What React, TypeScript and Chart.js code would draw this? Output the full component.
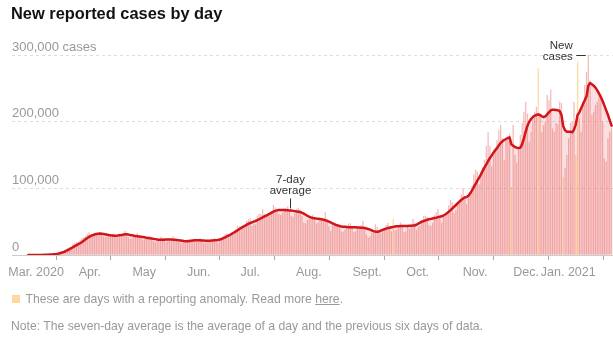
import React, { useEffect, useRef } from "react";
import { Chart, registerables } from "chart.js";

Chart.register(...registerables);

const FONT = '"Liberation Sans", Arial, Helvetica, sans-serif';

// Day 0 of both series
const startDate = "2020-03-01";

// New reported cases per day, in thousands (Mar. 1, 2020 - Jan. 21, 2021), one row per week (Sun-Sat)
const dailyCases = [
  0.02, 0.03, 0.04, 0.05, 0.07, 0.1, 0.12,
  0.15, 0.2, 0.3, 0.4, 0.5, 0.7, 0.8,
  0.9, 1.4, 2.0, 3.0, 4.5, 5.6, 7.0,
  8.5, 10.2, 10.8, 12.0, 17.0, 18.5, 19.5,
  20.0, 22.0, 26.0, 26.5, 29.0, 32.0, 34.0,
  28.0, 29.5, 31.5, 31.5, 33.5, 35.0, 31.0,
  28.0, 26.5, 27.5, 30.0, 30.5, 31.5, 32.0,
  27.0, 27.0, 27.5, 29.0, 31.5, 36.5, 33.0,
  26.5, 24.0, 25.0, 27.0, 29.5, 33.0, 29.0,
  25.5, 23.0, 23.5, 24.5, 27.5, 28.0, 26.5,
  21.0, 19.5, 21.5, 21.5, 27.0, 26.0, 25.5,
  19.5, 21.0, 20.5, 21.5, 28.0, 24.0, 22.5,
  19.5, 18.5, 18.5, 19.5, 22.0, 23.5, 24.5,
  20.5, 21.0, 21.0, 20.0, 22.5, 24.5, 23.0,
  18.5, 18.0, 19.0, 21.5, 23.0, 23.5, 25.5,
  20.0, 18.5, 23.5, 25.5, 28.0, 31.5, 32.5,
  26.0, 28.5, 33.0, 36.5, 38.5, 44.0, 43.0,
  40.0, 40.5, 44.5, 51.0, 53.5, 55.0, 44.0,
  47.0, 46.0, 59.0, 62.0, 61.5, 68.5, 62.0,
  59.5, 58.5, 63.0, 66.0, 75.0, 71.5, 65.0,
  62.0, 60.0, 63.0, 70.0, 70.5, 73.0, 67.0,
  59.0, 57.5, 63.5, 69.5, 71.0, 68.0, 59.0,
  48.5, 47.5, 53.0, 54.0, 56.5, 60.0, 56.5,
  47.5, 49.0, 54.0, 53.5, 52.5, 64.0, 54.5,
  43.0, 36.0, 44.5, 46.5, 46.0, 46.5, 44.5,
  35.5, 35.0, 38.5, 40.5, 47.0, 47.5, 43.5,
  34.5, 36.0, 41.0, 39.5, 45.0, 51.5, 42.0,
  31.0, 26.0, 28.0, 33.5, 37.0, 46.0, 42.5,
  34.0, 32.5, 38.5, 41.0, 45.0, 48.0, 44.0,
  35.5, 54.0, 37.0, 38.5, 43.0, 49.0, 45.0,
  34.5, 35.5, 42.0, 39.5, 45.0, 54.5, 48.5,
  38.0, 42.5, 44.0, 52.0, 58.5, 59.0, 57.0,
  45.0, 44.0, 48.5, 59.5, 64.0, 69.0, 57.0,
  48.5, 58.5, 58.0, 60.5, 74.5, 83.0, 79.5,
  63.0, 67.5, 75.0, 81.0, 91.0, 99.5, 86.5,
  76.0, 86.0, 93.0, 104.0, 121.0, 128.0, 125.0,
  106.0, 118.0, 132.0, 143.0, 163.0, 184.0, 164.0,
  133.0, 158.0, 161.0, 172.0, 187.0, 195.0, 175.0,
  142.0, 173.0, 172.0, 182.0, 102.0, 195.0, 150.0,
  139.0, 160.0, 180.0, 198.0, 215.0, 230.0, 212.0,
  170.0, 185.0, 205.0, 215.0, 222.0, 280.0, 212.0,
  185.0, 195.0, 200.0, 240.0, 232.0, 248.0, 190.0,
  185.0, 198.0, 196.0, 230.0, 228.0, 117.0, 130.0,
  150.0, 175.0, 198.0, 200.0, 230.0, 150.0, 290.0,
  205.0, 185.0, 230.0, 255.0, 275.0, 300.0, 262.0,
  210.0, 215.0, 225.0, 230.0, 238.0, 240.0, 200.0,
  145.0, 140.0, 175.0, 185.0, 190.0,
];

// Seven-day average, in thousands, same days as dailyCases
const sevenDayAverage = [
  0.0, 0.0, 0.01, 0.02, 0.03, 0.05, 0.07, 0.1, 0.15, 0.2,
  0.3, 0.4, 0.6, 0.8, 1.0, 1.3, 1.7, 2.2, 2.9, 3.7,
  4.8, 6.0, 7.3, 8.7, 10.2, 11.8, 13.4, 14.8, 16.2, 17.6, 19.5,
  21.5, 23.5, 25.5, 27.2, 28.6, 29.8, 30.8, 31.6, 32.0, 32.2,
  31.9, 31.5, 31.0, 30.5, 30.0, 29.6, 29.3, 29.0, 28.9, 29.2,
  29.6, 30.0, 30.5, 31.0, 31.0, 30.6, 30.0, 29.5, 29.0, 28.6,
  28.2, 27.8, 27.4, 27.0, 26.6, 26.0, 25.5, 25.0, 24.6, 24.2,
  23.8, 23.4, 23.0, 22.8, 22.8, 23.0, 23.2, 23.4, 23.4, 23.2,
  23.0, 22.8, 22.5, 22.2, 21.8, 21.4, 21.0, 20.8, 20.8, 21.0, 21.4,
  21.8, 22.0, 22.2, 22.2, 22.0, 21.8, 21.6, 21.4, 21.4, 21.5,
  21.6, 21.8, 22.0, 22.3, 22.6, 23.2, 24.0, 25.2, 26.5, 27.8,
  29.2, 30.6, 32.2, 33.8, 35.5, 37.2, 39.0, 40.6, 42.2, 43.8,
  45.2, 46.8, 48.0, 49.0, 50.0, 51.0, 52.2, 53.6, 55.0, 56.4,
  57.8, 59.2, 60.6, 62.0, 63.5, 65.0, 66.2, 67.0, 67.4, 67.6,
  67.6, 67.4, 67.2, 67.0, 66.8, 66.6, 66.2, 65.8, 65.4, 65.0, 64.4,
  63.4, 62.0, 60.4, 58.8, 57.4, 56.4, 55.6, 55.0, 54.6, 54.3,
  54.0, 53.6, 53.0, 52.2, 51.2, 50.0, 48.8, 47.6, 46.4, 45.2,
  44.2, 43.4, 42.8, 42.4, 42.2, 42.0, 41.8, 41.6, 41.6, 41.6, 41.6,
  41.4, 41.2, 41.0, 40.8, 40.4, 39.8, 39.0, 38.0, 36.8, 35.8,
  35.0, 34.8, 35.2, 36.4, 37.6, 38.6, 39.6, 40.4, 41.0, 41.6,
  42.2, 42.6, 43.0, 43.2, 43.4, 43.4, 43.4, 43.4, 43.6, 43.8,
  44.0, 44.2, 44.4, 45.4, 47.0, 48.6, 50.0, 51.0, 52.0, 53.0,
  53.6, 54.2, 54.8, 55.4, 56.0, 56.8, 57.4, 58.0, 59.2, 60.8,
  62.8, 65.0, 67.4, 69.8, 72.4, 75.0, 77.6, 80.2, 82.6, 84.8, 86.4,
  87.0, 89.0, 92.5, 97.0, 102.0, 106.5, 111.5, 116.0, 121.0, 126.5,
  131.5, 136.0, 141.0, 145.5, 149.5, 153.5, 157.0, 160.5, 164.5, 168.0,
  170.5, 172.5, 174.0, 175.5, 176.5, 166.0, 164.0, 162.0, 161.0, 160.5,
  161.0, 166.0, 175.0, 185.0, 194.0, 200.0, 204.0, 207.0, 209.0, 210.0,
  211.0, 210.0, 208.0, 207.0, 208.0, 211.0, 214.0, 217.0, 218.0, 218.0,
  217.5, 217.0, 216.0, 210.0, 193.0, 187.0, 185.0, 185.0, 185.0, 184.0, 188.0,
  196.0, 210.0, 214.0, 220.0, 226.0, 232.0, 238.0, 254.0, 258.0, 256.0,
  254.0, 251.0, 247.0, 242.0, 237.0, 231.0, 224.0, 217.0, 210.0, 202.0, 194.0,
];

// Days with a reporting anomaly
const anomalyDates = ["2020-09-21", "2020-11-26", "2020-12-11", "2020-12-25", "2021-01-01", "2021-01-02"];

// X axis ticks
const monthTickDates = [
  "2020-03-01", "2020-04-01", "2020-05-01", "2020-06-01", "2020-07-01", "2020-08-01",
  "2020-09-01", "2020-10-01", "2020-11-01", "2020-12-01", "2021-01-01",
];
const monthTickLabels = ["Mar. 2020", "Apr.", "May", "Jun.", "Jul.", "Aug.", "Sept.", "Oct.", "Nov.", "Dec.", "Jan. 2021"];

// Y axis ticks
const yTickValues = [0, 100000, 200000, 300000];
const yTickLabels = ["0", "100,000", "200,000", "300,000 cases"];

// Annotation anchors
const averageNoteDate = "2020-07-25";
const newCasesNoteDate = "2021-01-08";

// ---- styling / layout (not data) ----
const BAR_COLOR = "rgba(238, 135, 135, 0.58)";
const ANOMALY_COLOR = "rgba(252, 198, 115, 0.65)";
const LINE_COLOR = "#d0161b";
const LINE_FILL = "rgba(220, 50, 50, 0.15)";
const xLabelShift = [-20, -5, -5, -6, -6, -6, -5, -5, -4, -7, -35];

const DAY_MS = 86400000;
const dayIndex = (d: string) =>
  Math.round((Date.parse(d + "T00:00:00Z") - Date.parse(startDate + "T00:00:00Z")) / DAY_MS);

const annotationPlugin = {
  id: "nytAnnotations",
  afterDraw(chart: any) {
    const { ctx } = chart;
    const xs = chart.scales.x;
    const ys = chart.scales.y;
    ctx.save();

    // month labels
    ctx.font = `12.5px ${FONT}`;
    ctx.fillStyle = "#999";
    ctx.textAlign = "left";
    ctx.textBaseline = "alphabetic";
    monthTickDates.forEach((d, i) => {
      const px = xs.getPixelForValue(dayIndex(d));
      ctx.fillText(monthTickLabels[i], px + xLabelShift[i], xs.top + 21);
    });

    // "7-day average" note
    ctx.strokeStyle = "#333";
    ctx.lineWidth = 1;
    ctx.fillStyle = "#333";
    ctx.font = `11.5px ${FONT}`;
    const ai = dayIndex(averageNoteDate);
    const ax = Math.round(xs.getPixelForValue(ai)) + 0.5;
    const ay = ys.getPixelForValue(sevenDayAverage[ai] * 1000);
    ctx.beginPath();
    ctx.moveTo(ax, ay - 12);
    ctx.lineTo(ax, ay - 2);
    ctx.stroke();
    ctx.textAlign = "center";
    ctx.fillText("7-day", ax, ay - 27.5);
    ctx.fillText("average", ax, ay - 16.5);

    // "New cases" note
    const ni = dayIndex(newCasesNoteDate);
    const nx = xs.getPixelForValue(ni);
    const ny = Math.round(ys.getPixelForValue(dailyCases[ni] * 1000)) + 0.5;
    ctx.beginPath();
    ctx.moveTo(nx - 12, ny);
    ctx.lineTo(nx - 2.5, ny);
    ctx.stroke();
    ctx.textAlign = "right";
    ctx.fillText("New", nx - 15.5, ny - 7);
    ctx.fillText("cases", nx - 15.5, ny + 4);

    ctx.restore();
  },
};

export default function App() {
  const ref = useRef<HTMLCanvasElement | null>(null);

  useEffect(() => {
    if (!ref.current) return;
    const anomalySet = new Set(anomalyDates.map(dayIndex));
    const barData = dailyCases.map((v, i) => ({ x: i, y: v * 1000 }));
    const lineData = sevenDayAverage.map((v, i) => ({ x: i, y: v * 1000 }));
    const barColors = dailyCases.map((_, i) => (anomalySet.has(i) ? ANOMALY_COLOR : BAR_COLOR));

    const chart = new Chart(ref.current, {
      type: "bar",
      data: {
        datasets: [
          {
            type: "line",
            data: lineData,
            borderColor: LINE_COLOR,
            borderWidth: 2.5,
            pointRadius: 0,
            tension: 0,
            fill: "origin",
            backgroundColor: LINE_FILL,
            borderJoinStyle: "round",
            borderCapStyle: "round",
            order: 0,
          } as any,
          {
            type: "bar",
            data: barData,
            backgroundColor: barColors,
            barPercentage: 0.7,
            categoryPercentage: 1,
            order: 1,
          } as any,
        ],
      },
      options: {
        responsive: false,
        animation: false,
        events: [],
        devicePixelRatio: 1,
        layout: { padding: { left: 12, right: 0, top: 45, bottom: 0 } },
        plugins: {
          legend: { display: false },
          tooltip: { enabled: false },
          title: { display: false },
        },
        scales: {
          x: {
            type: "linear",
            min: -9.1,
            max: 326.8,
            offset: false,
            afterBuildTicks: (s: any) => {
              s.ticks = monthTickDates.map((d) => ({ value: dayIndex(d) }));
            },
            afterFit: (s: any) => {
              s.height = 88;
            },
            ticks: { display: false },
            grid: {
              display: true,
              drawOnChartArea: false,
              drawTicks: true,
              tickLength: 5,
              tickColor: "#aaa",
              tickWidth: 1,
            },
            border: { display: true, color: "#ccc", width: 1 },
          },
          y: {
            type: "linear",
            min: 0,
            max: 315000,
            afterBuildTicks: (s: any) => {
              s.ticks = yTickValues.map((v) => ({ value: v }));
            },
            afterFit: (s: any) => {
              s.width = 0;
            },
            ticks: {
              mirror: true,
              padding: 0,
              labelOffset: -8,
              color: "#999",
              font: { family: FONT, size: 13 },
              callback: (_v: any, i: number) => yTickLabels[i],
            },
            grid: {
              drawTicks: false,
              lineWidth: 1,
              color: (c: any) => (c.tick && c.tick.value === 0 ? "rgba(0,0,0,0)" : "#ddd"),
            },
            border: { display: false, dash: [3, 3] },
          },
        },
      } as any,
      plugins: [annotationPlugin],
    });
    return () => chart.destroy();
  }, []);

  return (
    <div
      style={{
        position: "fixed",
        left: 0,
        top: 0,
        width: 613,
        height: 343,
        background: "#fff",
        overflow: "hidden",
      }}
    >
      <canvas
        ref={ref}
        width={613}
        height={343}
        style={{ position: "absolute", left: 0, top: 0, width: 613, height: 343 }}
      />
      <div
        style={{
          position: "absolute",
          left: 11,
          top: 3,
          font: `bold 16.4px/20px ${FONT}`,
          color: "#121212",
          whiteSpace: "nowrap",
        }}
      >
        New reported cases by day
      </div>
      <div
        style={{
          position: "absolute",
          left: 11.5,
          top: 291,
          font: `12.2px/16px ${FONT}`,
          color: "#999",
          whiteSpace: "nowrap",
        }}
      >
        <span
          style={{
            display: "inline-block",
            width: 8,
            height: 8,
            background: "#fdd9a0",
            marginRight: 6,
          }}
        />
        These are days with a reporting anomaly. Read more{" "}
        <span style={{ textDecoration: "underline" }}>here</span>.
      </div>
      <div
        style={{
          position: "absolute",
          left: 11,
          top: 318,
          font: `12.2px/16px ${FONT}`,
          color: "#999",
          whiteSpace: "nowrap",
        }}
      >
        Note: The seven-day average is the average of a day and the previous six days of data.
      </div>
    </div>
  );
}
